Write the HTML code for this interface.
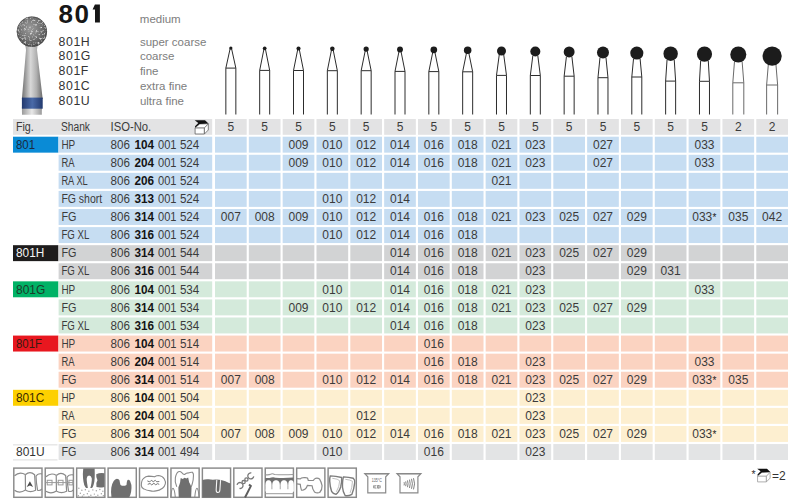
<!DOCTYPE html>
<html><head><meta charset="utf-8"><title>801</title>
<style>
html,body{margin:0;padding:0;background:#fff;}
body{width:800px;height:503px;overflow:hidden;position:relative;}
svg{position:absolute;left:0;top:0;display:block;}
text{font-family:"Liberation Sans", sans-serif;}
</style></head><body>
<svg width="800" height="503" viewBox="0 0 800 503">
<defs>
<radialGradient id="ball" cx="0.45" cy="0.4" r="0.6"><stop offset="0" stop-color="#9c9c9c"/><stop offset="0.55" stop-color="#767676"/><stop offset="1" stop-color="#4e4e4e"/></radialGradient>
<linearGradient id="shank" x1="0" x2="1" y1="0" y2="0"><stop offset="0" stop-color="#707070"/><stop offset="0.3" stop-color="#bdbdbd"/><stop offset="0.42" stop-color="#d8d8d8"/><stop offset="0.7" stop-color="#b0b0b0"/><stop offset="1" stop-color="#6a6a6a"/></linearGradient>
<linearGradient id="band" x1="0" x2="1" y1="0" y2="0"><stop offset="0" stop-color="#22396e"/><stop offset="0.5" stop-color="#4a6aa8"/><stop offset="1" stop-color="#22396e"/></linearGradient>
<linearGradient id="shaft" x1="0" x2="1" y1="0" y2="0"><stop offset="0" stop-color="#9a9a9a"/><stop offset="0.5" stop-color="#e8e8e8"/><stop offset="1" stop-color="#999"/></linearGradient>
</defs>
<defs><filter id="speck" x="-5%" y="-5%" width="110%" height="110%"><feTurbulence type="fractalNoise" baseFrequency="0.45" numOctaves="3" seed="11" result="n"/><feColorMatrix in="n" type="matrix" values="0 0 0 0 0.72  0 0 0 0 0.72  0 0 0 0 0.72  3.5 0 0 0 -1.95" result="w"/><feComposite in="w" in2="SourceGraphic" operator="in" result="ws"/><feColorMatrix in="n" type="matrix" values="0 0 0 0 0.25  0 0 0 0 0.25  0 0 0 0 0.25  0 -3.5 0 0 1.45" result="d"/><feComposite in="d" in2="SourceGraphic" operator="in" result="ds"/><feMerge><feMergeNode in="SourceGraphic"/><feMergeNode in="ds"/><feMergeNode in="ws"/></feMerge></filter></defs>
<g id="bigbur"><path d="M21.9,107 L41.9,107 L41.8,114.8 L22,114.8 Z" fill="url(#shaft)"/><path d="M24.6,44 L38.4,44 Q37,47 37,50 L42.7,99 L21.9,99 L26,50 Q26,47 24.6,44 Z" fill="url(#shank)"/><rect x="21.9" y="97.6" width="20.8" height="11.1" fill="url(#band)"/><circle cx="31.9" cy="31.7" r="15.1" fill="url(#ball)" filter="url(#speck)"/><circle cx="31.9" cy="31.7" r="14.8" fill="none" stroke="#3a3a3a" stroke-width="0.8" opacity="0.6"/></g>
<text x="58.6" y="22.5" font-size="26" font-weight="bold" fill="#161616" textLength="30.4" lengthAdjust="spacing">80</text><path d="M94.9,4.5 L99.9,4.5 L99.9,22.5 L95,22.5 L95,9.6 L92.6,9.6 Z" fill="#161616"/>
<text x="139.8" y="22.7" font-size="11.5" fill="#7d7d7d">medium</text>
<text x="58.5" y="45.50" font-size="12.3" letter-spacing="0.6" fill="#333">801H</text><text x="139.9" y="45.50" font-size="11.5" fill="#7d7d7d">super coarse</text>
<text x="58.5" y="60.40" font-size="12.3" letter-spacing="0.6" fill="#333">801G</text><text x="139.9" y="60.40" font-size="11.5" fill="#7d7d7d">coarse</text>
<text x="58.5" y="75.30" font-size="12.3" letter-spacing="0.6" fill="#333">801F</text><text x="139.9" y="75.30" font-size="11.5" fill="#7d7d7d">fine</text>
<text x="58.5" y="90.20" font-size="12.3" letter-spacing="0.6" fill="#333">801C</text><text x="139.9" y="90.20" font-size="11.5" fill="#7d7d7d">extra fine</text>
<text x="58.5" y="105.10" font-size="12.3" letter-spacing="0.6" fill="#333">801U</text><text x="139.9" y="105.10" font-size="11.5" fill="#7d7d7d">ultra fine</text>
<g fill="none" stroke="#2a2a2a" stroke-width="1">
<path stroke="#2c2c2c" d="M225.85,114.5 L225.85,68.10 L230.25,48.10 M231.45,48.10 L235.85,68.10 L235.85,114.5 M225.85,68.10 L235.85,68.10"/><circle cx="230.85" cy="48.10" r="1.60" fill="#1c1c1c" stroke="none"/>
<path stroke="#2c2c2c" d="M259.68,114.5 L259.68,70.40 L264.08,48.35 M265.28,48.35 L269.68,70.40 L269.68,114.5 M259.68,70.40 L269.68,70.40"/><circle cx="264.68" cy="48.35" r="1.85" fill="#1c1c1c" stroke="none"/>
<path stroke="#2c2c2c" d="M293.51,114.5 L293.51,70.50 L297.91,48.55 M299.11,48.55 L303.51,70.50 L303.51,114.5 M293.51,70.50 L303.51,70.50"/><circle cx="298.51" cy="48.55" r="2.05" fill="#1c1c1c" stroke="none"/>
<path stroke="#2c2c2c" d="M327.34,114.5 L327.34,70.70 L331.74,48.75 M332.94,48.75 L337.34,70.70 L337.34,114.5 M327.34,70.70 L337.34,70.70"/><circle cx="332.34" cy="48.75" r="2.25" fill="#1c1c1c" stroke="none"/>
<path stroke="#2c2c2c" d="M361.17,114.5 L361.17,70.70 L365.57,49.10 M366.77,49.10 L371.17,70.70 L371.17,114.5 M361.17,70.70 L371.17,70.70"/><circle cx="366.17" cy="49.10" r="2.60" fill="#1c1c1c" stroke="none"/>
<path stroke="#2c2c2c" d="M395.00,114.5 L395.00,71.40 L399.40,49.45 M400.60,49.45 L405.00,71.40 L405.00,114.5 M395.00,71.40 L405.00,71.40"/><circle cx="400.00" cy="49.45" r="2.95" fill="#1c1c1c" stroke="none"/>
<path stroke="#2c2c2c" d="M428.83,114.5 L428.83,71.60 L433.23,49.85 M434.43,49.85 L438.83,71.60 L438.83,114.5 M428.83,71.60 L438.83,71.60"/><circle cx="433.83" cy="49.85" r="3.35" fill="#1c1c1c" stroke="none"/>
<path stroke="#2c2c2c" d="M462.66,114.5 L462.66,71.80 L467.06,50.25 M468.26,50.25 L472.66,71.80 L472.66,114.5 M462.66,71.80 L472.66,71.80"/><circle cx="467.66" cy="50.25" r="3.75" fill="#1c1c1c" stroke="none"/>
<path stroke="#2c2c2c" d="M496.49,114.5 L496.49,75.40 L499.24,54.83 M503.74,54.83 L506.49,75.40 L506.49,114.5 M496.49,75.40 L506.49,75.40"/><circle cx="501.49" cy="51.00" r="4.50" fill="#1c1c1c" stroke="none"/>
<path stroke="#2c2c2c" d="M530.32,114.5 L530.32,75.50 L532.82,55.75 M537.82,55.75 L540.32,75.50 L540.32,114.5 M530.32,75.50 L540.32,75.50"/><circle cx="535.32" cy="51.50" r="5.00" fill="#1c1c1c" stroke="none"/>
<path stroke="#2c2c2c" d="M564.15,114.5 L564.15,76.20 L566.42,56.58 M571.88,56.58 L574.15,76.20 L574.15,114.5 M564.15,76.20 L574.15,76.20"/><circle cx="569.15" cy="51.95" r="5.45" fill="#1c1c1c" stroke="none"/>
<path stroke="#2c2c2c" d="M597.98,114.5 L597.98,77.70 L599.98,57.60 M605.98,57.60 L607.98,77.70 L607.98,114.5 M597.98,77.70 L607.98,77.70"/><circle cx="602.98" cy="52.50" r="6.00" fill="#1c1c1c" stroke="none"/>
<path stroke="#2c2c2c" d="M631.81,114.5 L631.81,77.00 L633.54,58.62 M640.09,58.62 L641.81,77.00 L641.81,114.5 M631.81,77.00 L641.81,77.00"/><circle cx="636.81" cy="53.05" r="6.55" fill="#1c1c1c" stroke="none"/>
<path stroke="#2c2c2c" d="M665.64,114.5 L665.64,81.10 L667.04,59.82 M674.24,59.82 L675.64,81.10 L675.64,114.5 M665.64,81.10 L675.64,81.10"/><circle cx="670.64" cy="53.70" r="7.20" fill="#1c1c1c" stroke="none"/>
<path stroke="#2c2c2c" d="M699.47,114.5 L699.47,81.30 L700.67,60.56 M708.27,60.56 L709.47,81.30 L709.47,114.5 M699.47,81.30 L709.47,81.30"/><circle cx="704.47" cy="54.10" r="7.60" fill="#1c1c1c" stroke="none"/>
<path stroke="#6a6a6a" d="M732.80,114.5 L732.80,82.80 L734.50,61.30 M742.10,61.30 L743.80,82.80 L743.80,114.5 M732.80,82.80 L743.80,82.80"/><circle cx="738.30" cy="54.50" r="8.00" fill="#1c1c1c" stroke="none"/>
<path stroke="#6a6a6a" d="M766.63,114.5 L766.63,85.00 L768.33,64.26 M775.93,64.26 L777.63,85.00 L777.63,114.5 M766.63,85.00 L777.63,85.00"/><circle cx="772.13" cy="56.10" r="9.60" fill="#1c1c1c" stroke="none"/>
</g>
<rect x="13" y="119.0" width="199.2" height="15.8" fill="#e3e3e4"/>
<text x="15.9" y="131" font-size="12.0" fill="#3b3b3b" textLength="17.9" lengthAdjust="spacingAndGlyphs">Fig.</text><text x="60.9" y="131" font-size="12.0" fill="#3b3b3b" textLength="29.1" lengthAdjust="spacingAndGlyphs">Shank</text><text x="110.5" y="131" font-size="12.0" fill="#3b3b3b" textLength="40.7" lengthAdjust="spacingAndGlyphs">ISO-No.</text>
<g><path d="M195.10,127.80 L204.40,127.80 L204.40,134.00 L195.10,134.00 Z" fill="#fff" stroke="#6a6a6a" stroke-width="0.85"/><path d="M204.40,127.80 L208.30,123.80 L208.30,130.00 L204.40,134.00 Z" fill="#fff" stroke="#6a6a6a" stroke-width="0.85"/><path d="M195.10,127.80 L199.70,124.00 L208.30,123.80 L204.40,127.80 Z" fill="#fff" stroke="#6a6a6a" stroke-width="0.7"/><path d="M194.70,120.20 L205.00,120.20 L208.50,123.60 L199.60,124.00 L195.30,127.40 L195.00,126.20 L198.30,122.90 Z" fill="#111"/></g>
<rect x="215.00" y="119.0" width="31.7" height="15.8" fill="#e3e3e4"/><text x="230.85" y="131" font-size="12.0" fill="#3b3b3b" text-anchor="middle">5</text><rect x="248.83" y="119.0" width="31.7" height="15.8" fill="#e3e3e4"/><text x="264.68" y="131" font-size="12.0" fill="#3b3b3b" text-anchor="middle">5</text><rect x="282.66" y="119.0" width="31.7" height="15.8" fill="#e3e3e4"/><text x="298.51" y="131" font-size="12.0" fill="#3b3b3b" text-anchor="middle">5</text><rect x="316.49" y="119.0" width="31.7" height="15.8" fill="#e3e3e4"/><text x="332.34" y="131" font-size="12.0" fill="#3b3b3b" text-anchor="middle">5</text><rect x="350.32" y="119.0" width="31.7" height="15.8" fill="#e3e3e4"/><text x="366.17" y="131" font-size="12.0" fill="#3b3b3b" text-anchor="middle">5</text><rect x="384.15" y="119.0" width="31.7" height="15.8" fill="#e3e3e4"/><text x="400.00" y="131" font-size="12.0" fill="#3b3b3b" text-anchor="middle">5</text><rect x="417.98" y="119.0" width="31.7" height="15.8" fill="#e3e3e4"/><text x="433.83" y="131" font-size="12.0" fill="#3b3b3b" text-anchor="middle">5</text><rect x="451.81" y="119.0" width="31.7" height="15.8" fill="#e3e3e4"/><text x="467.66" y="131" font-size="12.0" fill="#3b3b3b" text-anchor="middle">5</text><rect x="485.64" y="119.0" width="31.7" height="15.8" fill="#e3e3e4"/><text x="501.49" y="131" font-size="12.0" fill="#3b3b3b" text-anchor="middle">5</text><rect x="519.47" y="119.0" width="31.7" height="15.8" fill="#e3e3e4"/><text x="535.32" y="131" font-size="12.0" fill="#3b3b3b" text-anchor="middle">5</text><rect x="553.30" y="119.0" width="31.7" height="15.8" fill="#e3e3e4"/><text x="569.15" y="131" font-size="12.0" fill="#3b3b3b" text-anchor="middle">5</text><rect x="587.13" y="119.0" width="31.7" height="15.8" fill="#e3e3e4"/><text x="602.98" y="131" font-size="12.0" fill="#3b3b3b" text-anchor="middle">5</text><rect x="620.96" y="119.0" width="31.7" height="15.8" fill="#e3e3e4"/><text x="636.81" y="131" font-size="12.0" fill="#3b3b3b" text-anchor="middle">5</text><rect x="654.79" y="119.0" width="31.7" height="15.8" fill="#e3e3e4"/><text x="670.64" y="131" font-size="12.0" fill="#3b3b3b" text-anchor="middle">5</text><rect x="688.62" y="119.0" width="31.7" height="15.8" fill="#e3e3e4"/><text x="704.47" y="131" font-size="12.0" fill="#3b3b3b" text-anchor="middle">5</text><rect x="722.45" y="119.0" width="31.7" height="15.8" fill="#e3e3e4"/><text x="738.30" y="131" font-size="12.0" fill="#3b3b3b" text-anchor="middle">2</text><rect x="756.28" y="119.0" width="31.7" height="15.8" fill="#e3e3e4"/><text x="772.13" y="131" font-size="12.0" fill="#3b3b3b" text-anchor="middle">2</text>
<rect x="13" y="136.70" width="45.4" height="15.95" fill="#0a8bd6"/><text x="16.0" y="148.90" font-size="12.0" fill="#1b2a40" textLength="19.1" lengthAdjust="spacingAndGlyphs">801</text><rect x="58.6" y="136.70" width="153.6" height="15.95" fill="#c6ddf2"/><text x="61.4" y="148.90" font-size="12.0" fill="#3b3b3b" textLength="13.8" lengthAdjust="spacingAndGlyphs">HP</text><text y="148.90" font-size="12.0" fill="#3b3b3b"><tspan x="110.5" textLength="19.4" lengthAdjust="spacingAndGlyphs">806</tspan><tspan x="134.4" font-weight="bold" fill="#141414" textLength="19.6" lengthAdjust="spacingAndGlyphs">104</tspan><tspan x="158.0" textLength="18.5" lengthAdjust="spacingAndGlyphs">001</tspan><tspan x="179.9" textLength="19.4" lengthAdjust="spacingAndGlyphs">524</tspan></text><rect x="215.00" y="136.70" width="31.7" height="15.95" fill="#c6ddf2"/><rect x="248.83" y="136.70" width="31.7" height="15.95" fill="#c6ddf2"/><rect x="282.66" y="136.70" width="31.7" height="15.95" fill="#c6ddf2"/><text x="298.51" y="148.90" font-size="12.0" fill="#3b3b3b" text-anchor="middle">009</text><rect x="316.49" y="136.70" width="31.7" height="15.95" fill="#c6ddf2"/><text x="332.34" y="148.90" font-size="12.0" fill="#3b3b3b" text-anchor="middle">010</text><rect x="350.32" y="136.70" width="31.7" height="15.95" fill="#c6ddf2"/><text x="366.17" y="148.90" font-size="12.0" fill="#3b3b3b" text-anchor="middle">012</text><rect x="384.15" y="136.70" width="31.7" height="15.95" fill="#c6ddf2"/><text x="400.00" y="148.90" font-size="12.0" fill="#3b3b3b" text-anchor="middle">014</text><rect x="417.98" y="136.70" width="31.7" height="15.95" fill="#c6ddf2"/><text x="433.83" y="148.90" font-size="12.0" fill="#3b3b3b" text-anchor="middle">016</text><rect x="451.81" y="136.70" width="31.7" height="15.95" fill="#c6ddf2"/><text x="467.66" y="148.90" font-size="12.0" fill="#3b3b3b" text-anchor="middle">018</text><rect x="485.64" y="136.70" width="31.7" height="15.95" fill="#c6ddf2"/><text x="501.49" y="148.90" font-size="12.0" fill="#3b3b3b" text-anchor="middle">021</text><rect x="519.47" y="136.70" width="31.7" height="15.95" fill="#c6ddf2"/><text x="535.32" y="148.90" font-size="12.0" fill="#3b3b3b" text-anchor="middle">023</text><rect x="553.30" y="136.70" width="31.7" height="15.95" fill="#c6ddf2"/><rect x="587.13" y="136.70" width="31.7" height="15.95" fill="#c6ddf2"/><text x="602.98" y="148.90" font-size="12.0" fill="#3b3b3b" text-anchor="middle">027</text><rect x="620.96" y="136.70" width="31.7" height="15.95" fill="#c6ddf2"/><rect x="654.79" y="136.70" width="31.7" height="15.95" fill="#c6ddf2"/><rect x="688.62" y="136.70" width="31.7" height="15.95" fill="#c6ddf2"/><text x="704.47" y="148.90" font-size="12.0" fill="#3b3b3b" text-anchor="middle">033</text><rect x="722.45" y="136.70" width="31.7" height="15.95" fill="#c6ddf2"/><rect x="756.28" y="136.70" width="31.7" height="15.95" fill="#c6ddf2"/>
<rect x="58.6" y="154.78" width="153.6" height="15.95" fill="#c6ddf2"/><text x="61.4" y="166.98" font-size="12.0" fill="#3b3b3b" textLength="13.1" lengthAdjust="spacingAndGlyphs">RA</text><text y="166.98" font-size="12.0" fill="#3b3b3b"><tspan x="110.5" textLength="19.4" lengthAdjust="spacingAndGlyphs">806</tspan><tspan x="134.4" font-weight="bold" fill="#141414" textLength="19.6" lengthAdjust="spacingAndGlyphs">204</tspan><tspan x="158.0" textLength="18.5" lengthAdjust="spacingAndGlyphs">001</tspan><tspan x="179.9" textLength="19.4" lengthAdjust="spacingAndGlyphs">524</tspan></text><rect x="215.00" y="154.78" width="31.7" height="15.95" fill="#c6ddf2"/><rect x="248.83" y="154.78" width="31.7" height="15.95" fill="#c6ddf2"/><rect x="282.66" y="154.78" width="31.7" height="15.95" fill="#c6ddf2"/><text x="298.51" y="166.98" font-size="12.0" fill="#3b3b3b" text-anchor="middle">009</text><rect x="316.49" y="154.78" width="31.7" height="15.95" fill="#c6ddf2"/><text x="332.34" y="166.98" font-size="12.0" fill="#3b3b3b" text-anchor="middle">010</text><rect x="350.32" y="154.78" width="31.7" height="15.95" fill="#c6ddf2"/><text x="366.17" y="166.98" font-size="12.0" fill="#3b3b3b" text-anchor="middle">012</text><rect x="384.15" y="154.78" width="31.7" height="15.95" fill="#c6ddf2"/><text x="400.00" y="166.98" font-size="12.0" fill="#3b3b3b" text-anchor="middle">014</text><rect x="417.98" y="154.78" width="31.7" height="15.95" fill="#c6ddf2"/><text x="433.83" y="166.98" font-size="12.0" fill="#3b3b3b" text-anchor="middle">016</text><rect x="451.81" y="154.78" width="31.7" height="15.95" fill="#c6ddf2"/><text x="467.66" y="166.98" font-size="12.0" fill="#3b3b3b" text-anchor="middle">018</text><rect x="485.64" y="154.78" width="31.7" height="15.95" fill="#c6ddf2"/><text x="501.49" y="166.98" font-size="12.0" fill="#3b3b3b" text-anchor="middle">021</text><rect x="519.47" y="154.78" width="31.7" height="15.95" fill="#c6ddf2"/><text x="535.32" y="166.98" font-size="12.0" fill="#3b3b3b" text-anchor="middle">023</text><rect x="553.30" y="154.78" width="31.7" height="15.95" fill="#c6ddf2"/><rect x="587.13" y="154.78" width="31.7" height="15.95" fill="#c6ddf2"/><text x="602.98" y="166.98" font-size="12.0" fill="#3b3b3b" text-anchor="middle">027</text><rect x="620.96" y="154.78" width="31.7" height="15.95" fill="#c6ddf2"/><rect x="654.79" y="154.78" width="31.7" height="15.95" fill="#c6ddf2"/><rect x="688.62" y="154.78" width="31.7" height="15.95" fill="#c6ddf2"/><text x="704.47" y="166.98" font-size="12.0" fill="#3b3b3b" text-anchor="middle">033</text><rect x="722.45" y="154.78" width="31.7" height="15.95" fill="#c6ddf2"/><rect x="756.28" y="154.78" width="31.7" height="15.95" fill="#c6ddf2"/>
<rect x="58.6" y="172.86" width="153.6" height="15.95" fill="#c6ddf2"/><text x="61.4" y="185.06" font-size="12.0" fill="#3b3b3b" textLength="26.4" lengthAdjust="spacingAndGlyphs">RA XL</text><text y="185.06" font-size="12.0" fill="#3b3b3b"><tspan x="110.5" textLength="19.4" lengthAdjust="spacingAndGlyphs">806</tspan><tspan x="134.4" font-weight="bold" fill="#141414" textLength="19.6" lengthAdjust="spacingAndGlyphs">206</tspan><tspan x="158.0" textLength="18.5" lengthAdjust="spacingAndGlyphs">001</tspan><tspan x="179.9" textLength="19.4" lengthAdjust="spacingAndGlyphs">524</tspan></text><rect x="215.00" y="172.86" width="31.7" height="15.95" fill="#c6ddf2"/><rect x="248.83" y="172.86" width="31.7" height="15.95" fill="#c6ddf2"/><rect x="282.66" y="172.86" width="31.7" height="15.95" fill="#c6ddf2"/><rect x="316.49" y="172.86" width="31.7" height="15.95" fill="#c6ddf2"/><rect x="350.32" y="172.86" width="31.7" height="15.95" fill="#c6ddf2"/><rect x="384.15" y="172.86" width="31.7" height="15.95" fill="#c6ddf2"/><rect x="417.98" y="172.86" width="31.7" height="15.95" fill="#c6ddf2"/><rect x="451.81" y="172.86" width="31.7" height="15.95" fill="#c6ddf2"/><rect x="485.64" y="172.86" width="31.7" height="15.95" fill="#c6ddf2"/><text x="501.49" y="185.06" font-size="12.0" fill="#3b3b3b" text-anchor="middle">021</text><rect x="519.47" y="172.86" width="31.7" height="15.95" fill="#c6ddf2"/><rect x="553.30" y="172.86" width="31.7" height="15.95" fill="#c6ddf2"/><rect x="587.13" y="172.86" width="31.7" height="15.95" fill="#c6ddf2"/><rect x="620.96" y="172.86" width="31.7" height="15.95" fill="#c6ddf2"/><rect x="654.79" y="172.86" width="31.7" height="15.95" fill="#c6ddf2"/><rect x="688.62" y="172.86" width="31.7" height="15.95" fill="#c6ddf2"/><rect x="722.45" y="172.86" width="31.7" height="15.95" fill="#c6ddf2"/><rect x="756.28" y="172.86" width="31.7" height="15.95" fill="#c6ddf2"/>
<rect x="58.6" y="190.94" width="153.6" height="15.95" fill="#c6ddf2"/><text x="61.4" y="203.14" font-size="12.0" fill="#3b3b3b" textLength="40.8" lengthAdjust="spacingAndGlyphs">FG short</text><text y="203.14" font-size="12.0" fill="#3b3b3b"><tspan x="110.5" textLength="19.4" lengthAdjust="spacingAndGlyphs">806</tspan><tspan x="134.4" font-weight="bold" fill="#141414" textLength="19.6" lengthAdjust="spacingAndGlyphs">313</tspan><tspan x="158.0" textLength="18.5" lengthAdjust="spacingAndGlyphs">001</tspan><tspan x="179.9" textLength="19.4" lengthAdjust="spacingAndGlyphs">524</tspan></text><rect x="215.00" y="190.94" width="31.7" height="15.95" fill="#c6ddf2"/><rect x="248.83" y="190.94" width="31.7" height="15.95" fill="#c6ddf2"/><rect x="282.66" y="190.94" width="31.7" height="15.95" fill="#c6ddf2"/><rect x="316.49" y="190.94" width="31.7" height="15.95" fill="#c6ddf2"/><text x="332.34" y="203.14" font-size="12.0" fill="#3b3b3b" text-anchor="middle">010</text><rect x="350.32" y="190.94" width="31.7" height="15.95" fill="#c6ddf2"/><text x="366.17" y="203.14" font-size="12.0" fill="#3b3b3b" text-anchor="middle">012</text><rect x="384.15" y="190.94" width="31.7" height="15.95" fill="#c6ddf2"/><text x="400.00" y="203.14" font-size="12.0" fill="#3b3b3b" text-anchor="middle">014</text><rect x="417.98" y="190.94" width="31.7" height="15.95" fill="#c6ddf2"/><rect x="451.81" y="190.94" width="31.7" height="15.95" fill="#c6ddf2"/><rect x="485.64" y="190.94" width="31.7" height="15.95" fill="#c6ddf2"/><rect x="519.47" y="190.94" width="31.7" height="15.95" fill="#c6ddf2"/><rect x="553.30" y="190.94" width="31.7" height="15.95" fill="#c6ddf2"/><rect x="587.13" y="190.94" width="31.7" height="15.95" fill="#c6ddf2"/><rect x="620.96" y="190.94" width="31.7" height="15.95" fill="#c6ddf2"/><rect x="654.79" y="190.94" width="31.7" height="15.95" fill="#c6ddf2"/><rect x="688.62" y="190.94" width="31.7" height="15.95" fill="#c6ddf2"/><rect x="722.45" y="190.94" width="31.7" height="15.95" fill="#c6ddf2"/><rect x="756.28" y="190.94" width="31.7" height="15.95" fill="#c6ddf2"/>
<rect x="58.6" y="209.02" width="153.6" height="15.95" fill="#c6ddf2"/><text x="61.4" y="221.22" font-size="12.0" fill="#3b3b3b" textLength="15.0" lengthAdjust="spacingAndGlyphs">FG</text><text y="221.22" font-size="12.0" fill="#3b3b3b"><tspan x="110.5" textLength="19.4" lengthAdjust="spacingAndGlyphs">806</tspan><tspan x="134.4" font-weight="bold" fill="#141414" textLength="19.6" lengthAdjust="spacingAndGlyphs">314</tspan><tspan x="158.0" textLength="18.5" lengthAdjust="spacingAndGlyphs">001</tspan><tspan x="179.9" textLength="19.4" lengthAdjust="spacingAndGlyphs">524</tspan></text><rect x="215.00" y="209.02" width="31.7" height="15.95" fill="#c6ddf2"/><text x="230.85" y="221.22" font-size="12.0" fill="#3b3b3b" text-anchor="middle">007</text><rect x="248.83" y="209.02" width="31.7" height="15.95" fill="#c6ddf2"/><text x="264.68" y="221.22" font-size="12.0" fill="#3b3b3b" text-anchor="middle">008</text><rect x="282.66" y="209.02" width="31.7" height="15.95" fill="#c6ddf2"/><text x="298.51" y="221.22" font-size="12.0" fill="#3b3b3b" text-anchor="middle">009</text><rect x="316.49" y="209.02" width="31.7" height="15.95" fill="#c6ddf2"/><text x="332.34" y="221.22" font-size="12.0" fill="#3b3b3b" text-anchor="middle">010</text><rect x="350.32" y="209.02" width="31.7" height="15.95" fill="#c6ddf2"/><text x="366.17" y="221.22" font-size="12.0" fill="#3b3b3b" text-anchor="middle">012</text><rect x="384.15" y="209.02" width="31.7" height="15.95" fill="#c6ddf2"/><text x="400.00" y="221.22" font-size="12.0" fill="#3b3b3b" text-anchor="middle">014</text><rect x="417.98" y="209.02" width="31.7" height="15.95" fill="#c6ddf2"/><text x="433.83" y="221.22" font-size="12.0" fill="#3b3b3b" text-anchor="middle">016</text><rect x="451.81" y="209.02" width="31.7" height="15.95" fill="#c6ddf2"/><text x="467.66" y="221.22" font-size="12.0" fill="#3b3b3b" text-anchor="middle">018</text><rect x="485.64" y="209.02" width="31.7" height="15.95" fill="#c6ddf2"/><text x="501.49" y="221.22" font-size="12.0" fill="#3b3b3b" text-anchor="middle">021</text><rect x="519.47" y="209.02" width="31.7" height="15.95" fill="#c6ddf2"/><text x="535.32" y="221.22" font-size="12.0" fill="#3b3b3b" text-anchor="middle">023</text><rect x="553.30" y="209.02" width="31.7" height="15.95" fill="#c6ddf2"/><text x="569.15" y="221.22" font-size="12.0" fill="#3b3b3b" text-anchor="middle">025</text><rect x="587.13" y="209.02" width="31.7" height="15.95" fill="#c6ddf2"/><text x="602.98" y="221.22" font-size="12.0" fill="#3b3b3b" text-anchor="middle">027</text><rect x="620.96" y="209.02" width="31.7" height="15.95" fill="#c6ddf2"/><text x="636.81" y="221.22" font-size="12.0" fill="#3b3b3b" text-anchor="middle">029</text><rect x="654.79" y="209.02" width="31.7" height="15.95" fill="#c6ddf2"/><rect x="688.62" y="209.02" width="31.7" height="15.95" fill="#c6ddf2"/><text x="702.27" y="221.22" font-size="12.0" fill="#3b3b3b" text-anchor="middle">033</text><text x="712.47" y="220.92" font-size="10" fill="#222">*</text><rect x="722.45" y="209.02" width="31.7" height="15.95" fill="#c6ddf2"/><text x="738.30" y="221.22" font-size="12.0" fill="#3b3b3b" text-anchor="middle">035</text><rect x="756.28" y="209.02" width="31.7" height="15.95" fill="#c6ddf2"/><text x="772.13" y="221.22" font-size="12.0" fill="#3b3b3b" text-anchor="middle">042</text>
<rect x="58.6" y="227.10" width="153.6" height="15.95" fill="#c6ddf2"/><text x="61.4" y="239.30" font-size="12.0" fill="#3b3b3b" textLength="27.9" lengthAdjust="spacingAndGlyphs">FG XL</text><text y="239.30" font-size="12.0" fill="#3b3b3b"><tspan x="110.5" textLength="19.4" lengthAdjust="spacingAndGlyphs">806</tspan><tspan x="134.4" font-weight="bold" fill="#141414" textLength="19.6" lengthAdjust="spacingAndGlyphs">316</tspan><tspan x="158.0" textLength="18.5" lengthAdjust="spacingAndGlyphs">001</tspan><tspan x="179.9" textLength="19.4" lengthAdjust="spacingAndGlyphs">524</tspan></text><rect x="215.00" y="227.10" width="31.7" height="15.95" fill="#c6ddf2"/><rect x="248.83" y="227.10" width="31.7" height="15.95" fill="#c6ddf2"/><rect x="282.66" y="227.10" width="31.7" height="15.95" fill="#c6ddf2"/><rect x="316.49" y="227.10" width="31.7" height="15.95" fill="#c6ddf2"/><text x="332.34" y="239.30" font-size="12.0" fill="#3b3b3b" text-anchor="middle">010</text><rect x="350.32" y="227.10" width="31.7" height="15.95" fill="#c6ddf2"/><text x="366.17" y="239.30" font-size="12.0" fill="#3b3b3b" text-anchor="middle">012</text><rect x="384.15" y="227.10" width="31.7" height="15.95" fill="#c6ddf2"/><text x="400.00" y="239.30" font-size="12.0" fill="#3b3b3b" text-anchor="middle">014</text><rect x="417.98" y="227.10" width="31.7" height="15.95" fill="#c6ddf2"/><text x="433.83" y="239.30" font-size="12.0" fill="#3b3b3b" text-anchor="middle">016</text><rect x="451.81" y="227.10" width="31.7" height="15.95" fill="#c6ddf2"/><text x="467.66" y="239.30" font-size="12.0" fill="#3b3b3b" text-anchor="middle">018</text><rect x="485.64" y="227.10" width="31.7" height="15.95" fill="#c6ddf2"/><rect x="519.47" y="227.10" width="31.7" height="15.95" fill="#c6ddf2"/><rect x="553.30" y="227.10" width="31.7" height="15.95" fill="#c6ddf2"/><rect x="587.13" y="227.10" width="31.7" height="15.95" fill="#c6ddf2"/><rect x="620.96" y="227.10" width="31.7" height="15.95" fill="#c6ddf2"/><rect x="654.79" y="227.10" width="31.7" height="15.95" fill="#c6ddf2"/><rect x="688.62" y="227.10" width="31.7" height="15.95" fill="#c6ddf2"/><rect x="722.45" y="227.10" width="31.7" height="15.95" fill="#c6ddf2"/><rect x="756.28" y="227.10" width="31.7" height="15.95" fill="#c6ddf2"/>
<rect x="13" y="245.18" width="45.4" height="15.95" fill="#1e1c1c"/><text x="16.0" y="257.38" font-size="12.0" fill="#f4f4f4" textLength="28.3" lengthAdjust="spacingAndGlyphs">801H</text><rect x="58.6" y="245.18" width="153.6" height="15.95" fill="#d2d3d4"/><text x="61.4" y="257.38" font-size="12.0" fill="#3b3b3b" textLength="15.0" lengthAdjust="spacingAndGlyphs">FG</text><text y="257.38" font-size="12.0" fill="#3b3b3b"><tspan x="110.5" textLength="19.4" lengthAdjust="spacingAndGlyphs">806</tspan><tspan x="134.4" font-weight="bold" fill="#141414" textLength="19.6" lengthAdjust="spacingAndGlyphs">314</tspan><tspan x="158.0" textLength="18.5" lengthAdjust="spacingAndGlyphs">001</tspan><tspan x="179.9" textLength="19.4" lengthAdjust="spacingAndGlyphs">544</tspan></text><rect x="215.00" y="245.18" width="31.7" height="15.95" fill="#d2d3d4"/><rect x="248.83" y="245.18" width="31.7" height="15.95" fill="#d2d3d4"/><rect x="282.66" y="245.18" width="31.7" height="15.95" fill="#d2d3d4"/><rect x="316.49" y="245.18" width="31.7" height="15.95" fill="#d2d3d4"/><rect x="350.32" y="245.18" width="31.7" height="15.95" fill="#d2d3d4"/><rect x="384.15" y="245.18" width="31.7" height="15.95" fill="#d2d3d4"/><text x="400.00" y="257.38" font-size="12.0" fill="#3b3b3b" text-anchor="middle">014</text><rect x="417.98" y="245.18" width="31.7" height="15.95" fill="#d2d3d4"/><text x="433.83" y="257.38" font-size="12.0" fill="#3b3b3b" text-anchor="middle">016</text><rect x="451.81" y="245.18" width="31.7" height="15.95" fill="#d2d3d4"/><text x="467.66" y="257.38" font-size="12.0" fill="#3b3b3b" text-anchor="middle">018</text><rect x="485.64" y="245.18" width="31.7" height="15.95" fill="#d2d3d4"/><text x="501.49" y="257.38" font-size="12.0" fill="#3b3b3b" text-anchor="middle">021</text><rect x="519.47" y="245.18" width="31.7" height="15.95" fill="#d2d3d4"/><text x="535.32" y="257.38" font-size="12.0" fill="#3b3b3b" text-anchor="middle">023</text><rect x="553.30" y="245.18" width="31.7" height="15.95" fill="#d2d3d4"/><text x="569.15" y="257.38" font-size="12.0" fill="#3b3b3b" text-anchor="middle">025</text><rect x="587.13" y="245.18" width="31.7" height="15.95" fill="#d2d3d4"/><text x="602.98" y="257.38" font-size="12.0" fill="#3b3b3b" text-anchor="middle">027</text><rect x="620.96" y="245.18" width="31.7" height="15.95" fill="#d2d3d4"/><text x="636.81" y="257.38" font-size="12.0" fill="#3b3b3b" text-anchor="middle">029</text><rect x="654.79" y="245.18" width="31.7" height="15.95" fill="#d2d3d4"/><rect x="688.62" y="245.18" width="31.7" height="15.95" fill="#d2d3d4"/><rect x="722.45" y="245.18" width="31.7" height="15.95" fill="#d2d3d4"/><rect x="756.28" y="245.18" width="31.7" height="15.95" fill="#d2d3d4"/>
<rect x="58.6" y="263.26" width="153.6" height="15.95" fill="#d2d3d4"/><text x="61.4" y="275.46" font-size="12.0" fill="#3b3b3b" textLength="27.9" lengthAdjust="spacingAndGlyphs">FG XL</text><text y="275.46" font-size="12.0" fill="#3b3b3b"><tspan x="110.5" textLength="19.4" lengthAdjust="spacingAndGlyphs">806</tspan><tspan x="134.4" font-weight="bold" fill="#141414" textLength="19.6" lengthAdjust="spacingAndGlyphs">316</tspan><tspan x="158.0" textLength="18.5" lengthAdjust="spacingAndGlyphs">001</tspan><tspan x="179.9" textLength="19.4" lengthAdjust="spacingAndGlyphs">544</tspan></text><rect x="215.00" y="263.26" width="31.7" height="15.95" fill="#d2d3d4"/><rect x="248.83" y="263.26" width="31.7" height="15.95" fill="#d2d3d4"/><rect x="282.66" y="263.26" width="31.7" height="15.95" fill="#d2d3d4"/><rect x="316.49" y="263.26" width="31.7" height="15.95" fill="#d2d3d4"/><rect x="350.32" y="263.26" width="31.7" height="15.95" fill="#d2d3d4"/><rect x="384.15" y="263.26" width="31.7" height="15.95" fill="#d2d3d4"/><text x="400.00" y="275.46" font-size="12.0" fill="#3b3b3b" text-anchor="middle">014</text><rect x="417.98" y="263.26" width="31.7" height="15.95" fill="#d2d3d4"/><text x="433.83" y="275.46" font-size="12.0" fill="#3b3b3b" text-anchor="middle">016</text><rect x="451.81" y="263.26" width="31.7" height="15.95" fill="#d2d3d4"/><text x="467.66" y="275.46" font-size="12.0" fill="#3b3b3b" text-anchor="middle">018</text><rect x="485.64" y="263.26" width="31.7" height="15.95" fill="#d2d3d4"/><rect x="519.47" y="263.26" width="31.7" height="15.95" fill="#d2d3d4"/><text x="535.32" y="275.46" font-size="12.0" fill="#3b3b3b" text-anchor="middle">023</text><rect x="553.30" y="263.26" width="31.7" height="15.95" fill="#d2d3d4"/><rect x="587.13" y="263.26" width="31.7" height="15.95" fill="#d2d3d4"/><rect x="620.96" y="263.26" width="31.7" height="15.95" fill="#d2d3d4"/><text x="636.81" y="275.46" font-size="12.0" fill="#3b3b3b" text-anchor="middle">029</text><rect x="654.79" y="263.26" width="31.7" height="15.95" fill="#d2d3d4"/><text x="670.64" y="275.46" font-size="12.0" fill="#3b3b3b" text-anchor="middle">031</text><rect x="688.62" y="263.26" width="31.7" height="15.95" fill="#d2d3d4"/><rect x="722.45" y="263.26" width="31.7" height="15.95" fill="#d2d3d4"/><rect x="756.28" y="263.26" width="31.7" height="15.95" fill="#d2d3d4"/>
<rect x="13" y="281.34" width="45.4" height="15.95" fill="#00b266"/><text x="16.0" y="293.54" font-size="12.0" fill="#1c3a2a" textLength="29.3" lengthAdjust="spacingAndGlyphs">801G</text><rect x="58.6" y="281.34" width="153.6" height="15.95" fill="#d4eadb"/><text x="61.4" y="293.54" font-size="12.0" fill="#3b3b3b" textLength="13.8" lengthAdjust="spacingAndGlyphs">HP</text><text y="293.54" font-size="12.0" fill="#3b3b3b"><tspan x="110.5" textLength="19.4" lengthAdjust="spacingAndGlyphs">806</tspan><tspan x="134.4" font-weight="bold" fill="#141414" textLength="19.6" lengthAdjust="spacingAndGlyphs">104</tspan><tspan x="158.0" textLength="18.5" lengthAdjust="spacingAndGlyphs">001</tspan><tspan x="179.9" textLength="19.4" lengthAdjust="spacingAndGlyphs">534</tspan></text><rect x="215.00" y="281.34" width="31.7" height="15.95" fill="#d4eadb"/><rect x="248.83" y="281.34" width="31.7" height="15.95" fill="#d4eadb"/><rect x="282.66" y="281.34" width="31.7" height="15.95" fill="#d4eadb"/><rect x="316.49" y="281.34" width="31.7" height="15.95" fill="#d4eadb"/><text x="332.34" y="293.54" font-size="12.0" fill="#3b3b3b" text-anchor="middle">010</text><rect x="350.32" y="281.34" width="31.7" height="15.95" fill="#d4eadb"/><rect x="384.15" y="281.34" width="31.7" height="15.95" fill="#d4eadb"/><text x="400.00" y="293.54" font-size="12.0" fill="#3b3b3b" text-anchor="middle">014</text><rect x="417.98" y="281.34" width="31.7" height="15.95" fill="#d4eadb"/><text x="433.83" y="293.54" font-size="12.0" fill="#3b3b3b" text-anchor="middle">016</text><rect x="451.81" y="281.34" width="31.7" height="15.95" fill="#d4eadb"/><text x="467.66" y="293.54" font-size="12.0" fill="#3b3b3b" text-anchor="middle">018</text><rect x="485.64" y="281.34" width="31.7" height="15.95" fill="#d4eadb"/><text x="501.49" y="293.54" font-size="12.0" fill="#3b3b3b" text-anchor="middle">021</text><rect x="519.47" y="281.34" width="31.7" height="15.95" fill="#d4eadb"/><text x="535.32" y="293.54" font-size="12.0" fill="#3b3b3b" text-anchor="middle">023</text><rect x="553.30" y="281.34" width="31.7" height="15.95" fill="#d4eadb"/><rect x="587.13" y="281.34" width="31.7" height="15.95" fill="#d4eadb"/><rect x="620.96" y="281.34" width="31.7" height="15.95" fill="#d4eadb"/><rect x="654.79" y="281.34" width="31.7" height="15.95" fill="#d4eadb"/><rect x="688.62" y="281.34" width="31.7" height="15.95" fill="#d4eadb"/><text x="704.47" y="293.54" font-size="12.0" fill="#3b3b3b" text-anchor="middle">033</text><rect x="722.45" y="281.34" width="31.7" height="15.95" fill="#d4eadb"/><rect x="756.28" y="281.34" width="31.7" height="15.95" fill="#d4eadb"/>
<rect x="58.6" y="299.42" width="153.6" height="15.95" fill="#d4eadb"/><text x="61.4" y="311.62" font-size="12.0" fill="#3b3b3b" textLength="15.0" lengthAdjust="spacingAndGlyphs">FG</text><text y="311.62" font-size="12.0" fill="#3b3b3b"><tspan x="110.5" textLength="19.4" lengthAdjust="spacingAndGlyphs">806</tspan><tspan x="134.4" font-weight="bold" fill="#141414" textLength="19.6" lengthAdjust="spacingAndGlyphs">314</tspan><tspan x="158.0" textLength="18.5" lengthAdjust="spacingAndGlyphs">001</tspan><tspan x="179.9" textLength="19.4" lengthAdjust="spacingAndGlyphs">534</tspan></text><rect x="215.00" y="299.42" width="31.7" height="15.95" fill="#d4eadb"/><rect x="248.83" y="299.42" width="31.7" height="15.95" fill="#d4eadb"/><rect x="282.66" y="299.42" width="31.7" height="15.95" fill="#d4eadb"/><text x="298.51" y="311.62" font-size="12.0" fill="#3b3b3b" text-anchor="middle">009</text><rect x="316.49" y="299.42" width="31.7" height="15.95" fill="#d4eadb"/><text x="332.34" y="311.62" font-size="12.0" fill="#3b3b3b" text-anchor="middle">010</text><rect x="350.32" y="299.42" width="31.7" height="15.95" fill="#d4eadb"/><text x="366.17" y="311.62" font-size="12.0" fill="#3b3b3b" text-anchor="middle">012</text><rect x="384.15" y="299.42" width="31.7" height="15.95" fill="#d4eadb"/><text x="400.00" y="311.62" font-size="12.0" fill="#3b3b3b" text-anchor="middle">014</text><rect x="417.98" y="299.42" width="31.7" height="15.95" fill="#d4eadb"/><text x="433.83" y="311.62" font-size="12.0" fill="#3b3b3b" text-anchor="middle">016</text><rect x="451.81" y="299.42" width="31.7" height="15.95" fill="#d4eadb"/><text x="467.66" y="311.62" font-size="12.0" fill="#3b3b3b" text-anchor="middle">018</text><rect x="485.64" y="299.42" width="31.7" height="15.95" fill="#d4eadb"/><text x="501.49" y="311.62" font-size="12.0" fill="#3b3b3b" text-anchor="middle">021</text><rect x="519.47" y="299.42" width="31.7" height="15.95" fill="#d4eadb"/><text x="535.32" y="311.62" font-size="12.0" fill="#3b3b3b" text-anchor="middle">023</text><rect x="553.30" y="299.42" width="31.7" height="15.95" fill="#d4eadb"/><text x="569.15" y="311.62" font-size="12.0" fill="#3b3b3b" text-anchor="middle">025</text><rect x="587.13" y="299.42" width="31.7" height="15.95" fill="#d4eadb"/><text x="602.98" y="311.62" font-size="12.0" fill="#3b3b3b" text-anchor="middle">027</text><rect x="620.96" y="299.42" width="31.7" height="15.95" fill="#d4eadb"/><text x="636.81" y="311.62" font-size="12.0" fill="#3b3b3b" text-anchor="middle">029</text><rect x="654.79" y="299.42" width="31.7" height="15.95" fill="#d4eadb"/><rect x="688.62" y="299.42" width="31.7" height="15.95" fill="#d4eadb"/><rect x="722.45" y="299.42" width="31.7" height="15.95" fill="#d4eadb"/><rect x="756.28" y="299.42" width="31.7" height="15.95" fill="#d4eadb"/>
<rect x="58.6" y="317.50" width="153.6" height="15.95" fill="#d4eadb"/><text x="61.4" y="329.70" font-size="12.0" fill="#3b3b3b" textLength="27.9" lengthAdjust="spacingAndGlyphs">FG XL</text><text y="329.70" font-size="12.0" fill="#3b3b3b"><tspan x="110.5" textLength="19.4" lengthAdjust="spacingAndGlyphs">806</tspan><tspan x="134.4" font-weight="bold" fill="#141414" textLength="19.6" lengthAdjust="spacingAndGlyphs">316</tspan><tspan x="158.0" textLength="18.5" lengthAdjust="spacingAndGlyphs">001</tspan><tspan x="179.9" textLength="19.4" lengthAdjust="spacingAndGlyphs">534</tspan></text><rect x="215.00" y="317.50" width="31.7" height="15.95" fill="#d4eadb"/><rect x="248.83" y="317.50" width="31.7" height="15.95" fill="#d4eadb"/><rect x="282.66" y="317.50" width="31.7" height="15.95" fill="#d4eadb"/><rect x="316.49" y="317.50" width="31.7" height="15.95" fill="#d4eadb"/><rect x="350.32" y="317.50" width="31.7" height="15.95" fill="#d4eadb"/><rect x="384.15" y="317.50" width="31.7" height="15.95" fill="#d4eadb"/><text x="400.00" y="329.70" font-size="12.0" fill="#3b3b3b" text-anchor="middle">014</text><rect x="417.98" y="317.50" width="31.7" height="15.95" fill="#d4eadb"/><text x="433.83" y="329.70" font-size="12.0" fill="#3b3b3b" text-anchor="middle">016</text><rect x="451.81" y="317.50" width="31.7" height="15.95" fill="#d4eadb"/><text x="467.66" y="329.70" font-size="12.0" fill="#3b3b3b" text-anchor="middle">018</text><rect x="485.64" y="317.50" width="31.7" height="15.95" fill="#d4eadb"/><rect x="519.47" y="317.50" width="31.7" height="15.95" fill="#d4eadb"/><text x="535.32" y="329.70" font-size="12.0" fill="#3b3b3b" text-anchor="middle">023</text><rect x="553.30" y="317.50" width="31.7" height="15.95" fill="#d4eadb"/><rect x="587.13" y="317.50" width="31.7" height="15.95" fill="#d4eadb"/><rect x="620.96" y="317.50" width="31.7" height="15.95" fill="#d4eadb"/><rect x="654.79" y="317.50" width="31.7" height="15.95" fill="#d4eadb"/><rect x="688.62" y="317.50" width="31.7" height="15.95" fill="#d4eadb"/><rect x="722.45" y="317.50" width="31.7" height="15.95" fill="#d4eadb"/><rect x="756.28" y="317.50" width="31.7" height="15.95" fill="#d4eadb"/>
<rect x="13" y="335.58" width="45.4" height="15.95" fill="#e8171f"/><text x="16.0" y="347.78" font-size="12.0" fill="#3a1a10" textLength="25.9" lengthAdjust="spacingAndGlyphs">801F</text><rect x="58.6" y="335.58" width="153.6" height="15.95" fill="#fbd3c1"/><text x="61.4" y="347.78" font-size="12.0" fill="#3b3b3b" textLength="13.8" lengthAdjust="spacingAndGlyphs">HP</text><text y="347.78" font-size="12.0" fill="#3b3b3b"><tspan x="110.5" textLength="19.4" lengthAdjust="spacingAndGlyphs">806</tspan><tspan x="134.4" font-weight="bold" fill="#141414" textLength="19.6" lengthAdjust="spacingAndGlyphs">104</tspan><tspan x="158.0" textLength="18.5" lengthAdjust="spacingAndGlyphs">001</tspan><tspan x="179.9" textLength="19.4" lengthAdjust="spacingAndGlyphs">514</tspan></text><rect x="215.00" y="335.58" width="31.7" height="15.95" fill="#fbd3c1"/><rect x="248.83" y="335.58" width="31.7" height="15.95" fill="#fbd3c1"/><rect x="282.66" y="335.58" width="31.7" height="15.95" fill="#fbd3c1"/><rect x="316.49" y="335.58" width="31.7" height="15.95" fill="#fbd3c1"/><rect x="350.32" y="335.58" width="31.7" height="15.95" fill="#fbd3c1"/><rect x="384.15" y="335.58" width="31.7" height="15.95" fill="#fbd3c1"/><rect x="417.98" y="335.58" width="31.7" height="15.95" fill="#fbd3c1"/><text x="433.83" y="347.78" font-size="12.0" fill="#3b3b3b" text-anchor="middle">016</text><rect x="451.81" y="335.58" width="31.7" height="15.95" fill="#fbd3c1"/><rect x="485.64" y="335.58" width="31.7" height="15.95" fill="#fbd3c1"/><rect x="519.47" y="335.58" width="31.7" height="15.95" fill="#fbd3c1"/><rect x="553.30" y="335.58" width="31.7" height="15.95" fill="#fbd3c1"/><rect x="587.13" y="335.58" width="31.7" height="15.95" fill="#fbd3c1"/><rect x="620.96" y="335.58" width="31.7" height="15.95" fill="#fbd3c1"/><rect x="654.79" y="335.58" width="31.7" height="15.95" fill="#fbd3c1"/><rect x="688.62" y="335.58" width="31.7" height="15.95" fill="#fbd3c1"/><rect x="722.45" y="335.58" width="31.7" height="15.95" fill="#fbd3c1"/><rect x="756.28" y="335.58" width="31.7" height="15.95" fill="#fbd3c1"/>
<rect x="58.6" y="353.66" width="153.6" height="15.95" fill="#fbd3c1"/><text x="61.4" y="365.86" font-size="12.0" fill="#3b3b3b" textLength="13.1" lengthAdjust="spacingAndGlyphs">RA</text><text y="365.86" font-size="12.0" fill="#3b3b3b"><tspan x="110.5" textLength="19.4" lengthAdjust="spacingAndGlyphs">806</tspan><tspan x="134.4" font-weight="bold" fill="#141414" textLength="19.6" lengthAdjust="spacingAndGlyphs">204</tspan><tspan x="158.0" textLength="18.5" lengthAdjust="spacingAndGlyphs">001</tspan><tspan x="179.9" textLength="19.4" lengthAdjust="spacingAndGlyphs">514</tspan></text><rect x="215.00" y="353.66" width="31.7" height="15.95" fill="#fbd3c1"/><rect x="248.83" y="353.66" width="31.7" height="15.95" fill="#fbd3c1"/><rect x="282.66" y="353.66" width="31.7" height="15.95" fill="#fbd3c1"/><rect x="316.49" y="353.66" width="31.7" height="15.95" fill="#fbd3c1"/><rect x="350.32" y="353.66" width="31.7" height="15.95" fill="#fbd3c1"/><rect x="384.15" y="353.66" width="31.7" height="15.95" fill="#fbd3c1"/><rect x="417.98" y="353.66" width="31.7" height="15.95" fill="#fbd3c1"/><text x="433.83" y="365.86" font-size="12.0" fill="#3b3b3b" text-anchor="middle">016</text><rect x="451.81" y="353.66" width="31.7" height="15.95" fill="#fbd3c1"/><text x="467.66" y="365.86" font-size="12.0" fill="#3b3b3b" text-anchor="middle">018</text><rect x="485.64" y="353.66" width="31.7" height="15.95" fill="#fbd3c1"/><rect x="519.47" y="353.66" width="31.7" height="15.95" fill="#fbd3c1"/><text x="535.32" y="365.86" font-size="12.0" fill="#3b3b3b" text-anchor="middle">023</text><rect x="553.30" y="353.66" width="31.7" height="15.95" fill="#fbd3c1"/><rect x="587.13" y="353.66" width="31.7" height="15.95" fill="#fbd3c1"/><rect x="620.96" y="353.66" width="31.7" height="15.95" fill="#fbd3c1"/><rect x="654.79" y="353.66" width="31.7" height="15.95" fill="#fbd3c1"/><rect x="688.62" y="353.66" width="31.7" height="15.95" fill="#fbd3c1"/><text x="704.47" y="365.86" font-size="12.0" fill="#3b3b3b" text-anchor="middle">033</text><rect x="722.45" y="353.66" width="31.7" height="15.95" fill="#fbd3c1"/><rect x="756.28" y="353.66" width="31.7" height="15.95" fill="#fbd3c1"/>
<rect x="58.6" y="371.74" width="153.6" height="15.95" fill="#fbd3c1"/><text x="61.4" y="383.94" font-size="12.0" fill="#3b3b3b" textLength="15.0" lengthAdjust="spacingAndGlyphs">FG</text><text y="383.94" font-size="12.0" fill="#3b3b3b"><tspan x="110.5" textLength="19.4" lengthAdjust="spacingAndGlyphs">806</tspan><tspan x="134.4" font-weight="bold" fill="#141414" textLength="19.6" lengthAdjust="spacingAndGlyphs">314</tspan><tspan x="158.0" textLength="18.5" lengthAdjust="spacingAndGlyphs">001</tspan><tspan x="179.9" textLength="19.4" lengthAdjust="spacingAndGlyphs">514</tspan></text><rect x="215.00" y="371.74" width="31.7" height="15.95" fill="#fbd3c1"/><text x="230.85" y="383.94" font-size="12.0" fill="#3b3b3b" text-anchor="middle">007</text><rect x="248.83" y="371.74" width="31.7" height="15.95" fill="#fbd3c1"/><text x="264.68" y="383.94" font-size="12.0" fill="#3b3b3b" text-anchor="middle">008</text><rect x="282.66" y="371.74" width="31.7" height="15.95" fill="#fbd3c1"/><rect x="316.49" y="371.74" width="31.7" height="15.95" fill="#fbd3c1"/><text x="332.34" y="383.94" font-size="12.0" fill="#3b3b3b" text-anchor="middle">010</text><rect x="350.32" y="371.74" width="31.7" height="15.95" fill="#fbd3c1"/><text x="366.17" y="383.94" font-size="12.0" fill="#3b3b3b" text-anchor="middle">012</text><rect x="384.15" y="371.74" width="31.7" height="15.95" fill="#fbd3c1"/><text x="400.00" y="383.94" font-size="12.0" fill="#3b3b3b" text-anchor="middle">014</text><rect x="417.98" y="371.74" width="31.7" height="15.95" fill="#fbd3c1"/><text x="433.83" y="383.94" font-size="12.0" fill="#3b3b3b" text-anchor="middle">016</text><rect x="451.81" y="371.74" width="31.7" height="15.95" fill="#fbd3c1"/><text x="467.66" y="383.94" font-size="12.0" fill="#3b3b3b" text-anchor="middle">018</text><rect x="485.64" y="371.74" width="31.7" height="15.95" fill="#fbd3c1"/><text x="501.49" y="383.94" font-size="12.0" fill="#3b3b3b" text-anchor="middle">021</text><rect x="519.47" y="371.74" width="31.7" height="15.95" fill="#fbd3c1"/><text x="535.32" y="383.94" font-size="12.0" fill="#3b3b3b" text-anchor="middle">023</text><rect x="553.30" y="371.74" width="31.7" height="15.95" fill="#fbd3c1"/><text x="569.15" y="383.94" font-size="12.0" fill="#3b3b3b" text-anchor="middle">025</text><rect x="587.13" y="371.74" width="31.7" height="15.95" fill="#fbd3c1"/><text x="602.98" y="383.94" font-size="12.0" fill="#3b3b3b" text-anchor="middle">027</text><rect x="620.96" y="371.74" width="31.7" height="15.95" fill="#fbd3c1"/><text x="636.81" y="383.94" font-size="12.0" fill="#3b3b3b" text-anchor="middle">029</text><rect x="654.79" y="371.74" width="31.7" height="15.95" fill="#fbd3c1"/><rect x="688.62" y="371.74" width="31.7" height="15.95" fill="#fbd3c1"/><text x="702.27" y="383.94" font-size="12.0" fill="#3b3b3b" text-anchor="middle">033</text><text x="712.47" y="383.64" font-size="10" fill="#222">*</text><rect x="722.45" y="371.74" width="31.7" height="15.95" fill="#fbd3c1"/><text x="738.30" y="383.94" font-size="12.0" fill="#3b3b3b" text-anchor="middle">035</text><rect x="756.28" y="371.74" width="31.7" height="15.95" fill="#fbd3c1"/>
<rect x="13" y="389.82" width="45.4" height="15.95" fill="#fdd000"/><text x="16.0" y="402.02" font-size="12.0" fill="#3a2a00" textLength="28.2" lengthAdjust="spacingAndGlyphs">801C</text><rect x="58.6" y="389.82" width="153.6" height="15.95" fill="#fdefd0"/><text x="61.4" y="402.02" font-size="12.0" fill="#3b3b3b" textLength="13.8" lengthAdjust="spacingAndGlyphs">HP</text><text y="402.02" font-size="12.0" fill="#3b3b3b"><tspan x="110.5" textLength="19.4" lengthAdjust="spacingAndGlyphs">806</tspan><tspan x="134.4" font-weight="bold" fill="#141414" textLength="19.6" lengthAdjust="spacingAndGlyphs">104</tspan><tspan x="158.0" textLength="18.5" lengthAdjust="spacingAndGlyphs">001</tspan><tspan x="179.9" textLength="19.4" lengthAdjust="spacingAndGlyphs">504</tspan></text><rect x="215.00" y="389.82" width="31.7" height="15.95" fill="#fdefd0"/><rect x="248.83" y="389.82" width="31.7" height="15.95" fill="#fdefd0"/><rect x="282.66" y="389.82" width="31.7" height="15.95" fill="#fdefd0"/><rect x="316.49" y="389.82" width="31.7" height="15.95" fill="#fdefd0"/><rect x="350.32" y="389.82" width="31.7" height="15.95" fill="#fdefd0"/><rect x="384.15" y="389.82" width="31.7" height="15.95" fill="#fdefd0"/><rect x="417.98" y="389.82" width="31.7" height="15.95" fill="#fdefd0"/><rect x="451.81" y="389.82" width="31.7" height="15.95" fill="#fdefd0"/><rect x="485.64" y="389.82" width="31.7" height="15.95" fill="#fdefd0"/><rect x="519.47" y="389.82" width="31.7" height="15.95" fill="#fdefd0"/><text x="535.32" y="402.02" font-size="12.0" fill="#3b3b3b" text-anchor="middle">023</text><rect x="553.30" y="389.82" width="31.7" height="15.95" fill="#fdefd0"/><rect x="587.13" y="389.82" width="31.7" height="15.95" fill="#fdefd0"/><rect x="620.96" y="389.82" width="31.7" height="15.95" fill="#fdefd0"/><rect x="654.79" y="389.82" width="31.7" height="15.95" fill="#fdefd0"/><rect x="688.62" y="389.82" width="31.7" height="15.95" fill="#fdefd0"/><rect x="722.45" y="389.82" width="31.7" height="15.95" fill="#fdefd0"/><rect x="756.28" y="389.82" width="31.7" height="15.95" fill="#fdefd0"/>
<rect x="58.6" y="407.90" width="153.6" height="15.95" fill="#fdefd0"/><text x="61.4" y="420.10" font-size="12.0" fill="#3b3b3b" textLength="13.1" lengthAdjust="spacingAndGlyphs">RA</text><text y="420.10" font-size="12.0" fill="#3b3b3b"><tspan x="110.5" textLength="19.4" lengthAdjust="spacingAndGlyphs">806</tspan><tspan x="134.4" font-weight="bold" fill="#141414" textLength="19.6" lengthAdjust="spacingAndGlyphs">204</tspan><tspan x="158.0" textLength="18.5" lengthAdjust="spacingAndGlyphs">001</tspan><tspan x="179.9" textLength="19.4" lengthAdjust="spacingAndGlyphs">504</tspan></text><rect x="215.00" y="407.90" width="31.7" height="15.95" fill="#fdefd0"/><rect x="248.83" y="407.90" width="31.7" height="15.95" fill="#fdefd0"/><rect x="282.66" y="407.90" width="31.7" height="15.95" fill="#fdefd0"/><rect x="316.49" y="407.90" width="31.7" height="15.95" fill="#fdefd0"/><rect x="350.32" y="407.90" width="31.7" height="15.95" fill="#fdefd0"/><text x="366.17" y="420.10" font-size="12.0" fill="#3b3b3b" text-anchor="middle">012</text><rect x="384.15" y="407.90" width="31.7" height="15.95" fill="#fdefd0"/><rect x="417.98" y="407.90" width="31.7" height="15.95" fill="#fdefd0"/><rect x="451.81" y="407.90" width="31.7" height="15.95" fill="#fdefd0"/><rect x="485.64" y="407.90" width="31.7" height="15.95" fill="#fdefd0"/><rect x="519.47" y="407.90" width="31.7" height="15.95" fill="#fdefd0"/><text x="535.32" y="420.10" font-size="12.0" fill="#3b3b3b" text-anchor="middle">023</text><rect x="553.30" y="407.90" width="31.7" height="15.95" fill="#fdefd0"/><rect x="587.13" y="407.90" width="31.7" height="15.95" fill="#fdefd0"/><rect x="620.96" y="407.90" width="31.7" height="15.95" fill="#fdefd0"/><rect x="654.79" y="407.90" width="31.7" height="15.95" fill="#fdefd0"/><rect x="688.62" y="407.90" width="31.7" height="15.95" fill="#fdefd0"/><rect x="722.45" y="407.90" width="31.7" height="15.95" fill="#fdefd0"/><rect x="756.28" y="407.90" width="31.7" height="15.95" fill="#fdefd0"/>
<rect x="58.6" y="425.98" width="153.6" height="15.95" fill="#fdefd0"/><text x="61.4" y="438.18" font-size="12.0" fill="#3b3b3b" textLength="15.0" lengthAdjust="spacingAndGlyphs">FG</text><text y="438.18" font-size="12.0" fill="#3b3b3b"><tspan x="110.5" textLength="19.4" lengthAdjust="spacingAndGlyphs">806</tspan><tspan x="134.4" font-weight="bold" fill="#141414" textLength="19.6" lengthAdjust="spacingAndGlyphs">314</tspan><tspan x="158.0" textLength="18.5" lengthAdjust="spacingAndGlyphs">001</tspan><tspan x="179.9" textLength="19.4" lengthAdjust="spacingAndGlyphs">504</tspan></text><rect x="215.00" y="425.98" width="31.7" height="15.95" fill="#fdefd0"/><text x="230.85" y="438.18" font-size="12.0" fill="#3b3b3b" text-anchor="middle">007</text><rect x="248.83" y="425.98" width="31.7" height="15.95" fill="#fdefd0"/><text x="264.68" y="438.18" font-size="12.0" fill="#3b3b3b" text-anchor="middle">008</text><rect x="282.66" y="425.98" width="31.7" height="15.95" fill="#fdefd0"/><text x="298.51" y="438.18" font-size="12.0" fill="#3b3b3b" text-anchor="middle">009</text><rect x="316.49" y="425.98" width="31.7" height="15.95" fill="#fdefd0"/><text x="332.34" y="438.18" font-size="12.0" fill="#3b3b3b" text-anchor="middle">010</text><rect x="350.32" y="425.98" width="31.7" height="15.95" fill="#fdefd0"/><text x="366.17" y="438.18" font-size="12.0" fill="#3b3b3b" text-anchor="middle">012</text><rect x="384.15" y="425.98" width="31.7" height="15.95" fill="#fdefd0"/><text x="400.00" y="438.18" font-size="12.0" fill="#3b3b3b" text-anchor="middle">014</text><rect x="417.98" y="425.98" width="31.7" height="15.95" fill="#fdefd0"/><text x="433.83" y="438.18" font-size="12.0" fill="#3b3b3b" text-anchor="middle">016</text><rect x="451.81" y="425.98" width="31.7" height="15.95" fill="#fdefd0"/><text x="467.66" y="438.18" font-size="12.0" fill="#3b3b3b" text-anchor="middle">018</text><rect x="485.64" y="425.98" width="31.7" height="15.95" fill="#fdefd0"/><text x="501.49" y="438.18" font-size="12.0" fill="#3b3b3b" text-anchor="middle">021</text><rect x="519.47" y="425.98" width="31.7" height="15.95" fill="#fdefd0"/><text x="535.32" y="438.18" font-size="12.0" fill="#3b3b3b" text-anchor="middle">023</text><rect x="553.30" y="425.98" width="31.7" height="15.95" fill="#fdefd0"/><text x="569.15" y="438.18" font-size="12.0" fill="#3b3b3b" text-anchor="middle">025</text><rect x="587.13" y="425.98" width="31.7" height="15.95" fill="#fdefd0"/><text x="602.98" y="438.18" font-size="12.0" fill="#3b3b3b" text-anchor="middle">027</text><rect x="620.96" y="425.98" width="31.7" height="15.95" fill="#fdefd0"/><text x="636.81" y="438.18" font-size="12.0" fill="#3b3b3b" text-anchor="middle">029</text><rect x="654.79" y="425.98" width="31.7" height="15.95" fill="#fdefd0"/><rect x="688.62" y="425.98" width="31.7" height="15.95" fill="#fdefd0"/><text x="702.27" y="438.18" font-size="12.0" fill="#3b3b3b" text-anchor="middle">033</text><text x="712.47" y="437.88" font-size="10" fill="#222">*</text><rect x="722.45" y="425.98" width="31.7" height="15.95" fill="#fdefd0"/><rect x="756.28" y="425.98" width="31.7" height="15.95" fill="#fdefd0"/>
<rect x="13" y="443.86" width="44.5" height="16.35" fill="#fff"/><line x1="13" x2="57.5" y1="444.86" y2="444.86" stroke="#dcdcdc" stroke-width="1"/><line x1="13" x2="57.5" y1="459.91" y2="459.91" stroke="#dcdcdc" stroke-width="1"/><text x="16.0" y="456.26" font-size="12.0" fill="#333" textLength="28.6" lengthAdjust="spacingAndGlyphs">801U</text><rect x="58.6" y="444.06" width="153.6" height="15.95" fill="#e3e4e5"/><text x="61.4" y="456.26" font-size="12.0" fill="#3b3b3b" textLength="15.0" lengthAdjust="spacingAndGlyphs">FG</text><text y="456.26" font-size="12.0" fill="#3b3b3b"><tspan x="110.5" textLength="19.4" lengthAdjust="spacingAndGlyphs">806</tspan><tspan x="134.4" font-weight="bold" fill="#141414" textLength="19.6" lengthAdjust="spacingAndGlyphs">314</tspan><tspan x="158.0" textLength="18.5" lengthAdjust="spacingAndGlyphs">001</tspan><tspan x="179.9" textLength="19.4" lengthAdjust="spacingAndGlyphs">494</tspan></text><rect x="215.00" y="444.06" width="31.7" height="15.95" fill="#e3e4e5"/><rect x="248.83" y="444.06" width="31.7" height="15.95" fill="#e3e4e5"/><rect x="282.66" y="444.06" width="31.7" height="15.95" fill="#e3e4e5"/><rect x="316.49" y="444.06" width="31.7" height="15.95" fill="#e3e4e5"/><text x="332.34" y="456.26" font-size="12.0" fill="#3b3b3b" text-anchor="middle">010</text><rect x="350.32" y="444.06" width="31.7" height="15.95" fill="#e3e4e5"/><rect x="384.15" y="444.06" width="31.7" height="15.95" fill="#e3e4e5"/><rect x="417.98" y="444.06" width="31.7" height="15.95" fill="#e3e4e5"/><text x="433.83" y="456.26" font-size="12.0" fill="#3b3b3b" text-anchor="middle">016</text><rect x="451.81" y="444.06" width="31.7" height="15.95" fill="#e3e4e5"/><rect x="485.64" y="444.06" width="31.7" height="15.95" fill="#e3e4e5"/><rect x="519.47" y="444.06" width="31.7" height="15.95" fill="#e3e4e5"/><text x="535.32" y="456.26" font-size="12.0" fill="#3b3b3b" text-anchor="middle">023</text><rect x="553.30" y="444.06" width="31.7" height="15.95" fill="#e3e4e5"/><rect x="587.13" y="444.06" width="31.7" height="15.95" fill="#e3e4e5"/><rect x="620.96" y="444.06" width="31.7" height="15.95" fill="#e3e4e5"/><rect x="654.79" y="444.06" width="31.7" height="15.95" fill="#e3e4e5"/><rect x="688.62" y="444.06" width="31.7" height="15.95" fill="#e3e4e5"/><rect x="722.45" y="444.06" width="31.7" height="15.95" fill="#e3e4e5"/><rect x="756.28" y="444.06" width="31.7" height="15.95" fill="#e3e4e5"/>
<text x="751.4" y="477.6" font-size="10.5" fill="#333">*</text><g><path d="M757.57,476.01 L766.40,476.01 L766.40,481.90 L757.57,481.90 Z" fill="#fff" stroke="#a0a0a0" stroke-width="0.85"/><path d="M766.40,476.01 L770.11,472.21 L770.11,478.10 L766.40,481.90 Z" fill="#fff" stroke="#a0a0a0" stroke-width="0.85"/><path d="M757.57,476.01 L761.94,472.40 L770.11,472.21 L766.40,476.01 Z" fill="#fff" stroke="#a0a0a0" stroke-width="0.7"/><path d="M757.19,468.79 L766.98,468.79 L770.30,472.02 L761.85,472.40 L757.76,475.63 L757.48,474.49 L760.61,471.36 Z" fill="#111"/></g><text x="772" y="479.5" font-size="12" fill="#333">=2</text>
<g>
<g transform="translate(13.00,467.3)"><rect x="0.8" y="0.8" width="28.2" height="29.2" fill="#fff" stroke="#8a8a8a" stroke-width="1.45"/><g fill="none" stroke="#8a8a8a" stroke-width="1.2"><path d="M1.5,8.5 Q6.5,3.8 12.3,7.2 L12.5,22.8 Q6.5,26.8 1.5,23"/><path d="M12.6,7.2 Q17,3.2 21.6,7.4 L22.6,23 Q17.5,25.6 12.6,23"/><path d="M29,6.6 Q24.5,5.8 23,9 Q23.2,16 24.6,23 Q27,23.8 29,21.5"/></g><path d="M16.9,13.9 L20.1,19.7 L16.9,18.3 L13.7,19.7 Z" fill="#4a4a4a"/></g>
<g transform="translate(44.43,467.3)"><rect x="0.8" y="0.8" width="28.2" height="29.2" fill="#fff" stroke="#8a8a8a" stroke-width="1.45"/><g fill="none" stroke="#8a8a8a" stroke-width="1.2"><path d="M1.5,9.5 Q6.5,4.8 11.8,8 L12,23.8 Q6.5,27.2 1.5,24"/><path d="M12.2,8 Q16.5,4.2 21.2,8.2 L22.2,24 Q17,26.6 12.2,24"/><path d="M29,7.6 Q24.2,6.8 22.6,10 Q22.8,17 24.2,24 Q26.8,24.8 29,22.5"/></g><g fill="none" stroke="#9a9a9a" stroke-width="1"><rect x="2.8" y="13" width="4.8" height="4.6"/><rect x="13.8" y="13" width="4.8" height="4.6"/><rect x="24.5" y="13" width="4" height="4.6"/><path d="M1,15.3 L29,15.3"/></g></g>
<g transform="translate(75.86,467.3)"><rect x="0.8" y="0.8" width="28.2" height="29.2" fill="#fff" stroke="#8a8a8a" stroke-width="1.45"/><path d="M7.4,1.1 L18.8,1.1 L18.9,6.8 Q19,11 18.5,14.3 Q17.8,18.2 16.8,19.9 Q15.6,21.2 14.4,20.6 Q15.2,18.5 15.6,15.6 Q16.1,12.5 15.9,10.9 Q15.3,8.2 13.2,8.2 Q11.2,8.2 10.9,10.9 Q10.7,13 11.2,15.6 Q11.7,18.5 12.0,20.6 Q10.6,21.2 9.6,19.9 Q8.0,17.8 7.6,14.3 Q7.0,10.5 7.0,6.8 Z" fill="#6f6f6f"/><path d="M20.4,7 Q24,5.2 28.6,6 L28.6,19.6 Q24.5,20.6 20.6,19.8 Q19.6,16 21.6,13 Q20,10 20.4,7 Z" fill="#6f6f6f"/><g fill="#a0a0a0"><circle cx="3" cy="21" r="0.7"/><circle cx="6" cy="23" r="0.7"/><circle cx="9.5" cy="22.5" r="0.7"/><circle cx="13" cy="24" r="0.7"/><circle cx="17" cy="22.6" r="0.7"/><circle cx="20.5" cy="23.5" r="0.7"/><circle cx="24" cy="22.2" r="0.7"/><circle cx="27" cy="24" r="0.7"/><circle cx="4.5" cy="26" r="0.7"/><circle cx="8" cy="27.5" r="0.7"/><circle cx="11.5" cy="26.5" r="0.7"/><circle cx="15" cy="28" r="0.7"/><circle cx="18.5" cy="26.8" r="0.7"/><circle cx="22" cy="28" r="0.7"/><circle cx="25.5" cy="26.5" r="0.7"/><circle cx="2.5" cy="28.5" r="0.7"/><circle cx="27.5" cy="28.5" r="0.7"/><circle cx="6.5" cy="29" r="0.7"/><circle cx="13" cy="29.2" r="0.7"/><circle cx="20" cy="29.3" r="0.7"/></g></g>
<g transform="translate(107.29,467.3)"><rect x="0.8" y="0.8" width="28.2" height="29.2" fill="#fff" stroke="#8a8a8a" stroke-width="1.45"/><path d="M4.2,30.2 Q3.4,24 4.0,20.4 Q4.8,16.2 6.4,13.8 Q7.8,11.6 9.6,11.4 Q11.6,11.4 12.2,13 Q12.6,15.6 13.2,17.6 Q16.2,19.4 19.2,17.6 Q19.4,14.2 20.2,12.8 Q21.6,11.8 22.8,13.8 Q24.4,17.4 24.2,20.6 Q24,25 23,27.6 L21.8,30.2 Z" fill="#6f6f6f"/></g>
<g transform="translate(138.72,467.3)"><rect x="0.8" y="0.8" width="28.2" height="29.2" fill="#fff" stroke="#8a8a8a" stroke-width="1.45"/><path d="M2.6,18.3 Q2.6,13.4 4.6,11.4 Q7,8.8 9.8,8.8 Q13,8.9 15.9,9.5 Q18,8.2 20,8.2 Q24,8.6 25.6,11.6 Q27.2,14.5 26.6,16.6 Q25.8,19.6 23.8,21 Q20.5,23.4 17.3,23.6 Q14,24.2 11.9,23.6 Q7.5,23.2 5.1,21.6 Q2.6,20.5 2.6,18.3 Z" fill="none" stroke="#8a8a8a" stroke-width="1.1"/><path d="M8.6,13.6 L11,14.6 L12.6,13 L14.6,14.4 L16.5,13 L18,14.5 L20.6,14.2 M9,17 L11.4,16.2 L13,17.6 L15.2,16 L17,17.5 L18.8,16.4 L20.5,17" fill="none" stroke="#666" stroke-width="0.9"/></g>
<g transform="translate(170.15,467.3)"><rect x="0.8" y="0.8" width="28.2" height="29.2" fill="#fff" stroke="#8a8a8a" stroke-width="1.45"/><path d="M10.6,10.8 L12.6,11.6 L14.4,10.4 L16.2,11.2 L18,10.2 Q18.6,13 19,14.9 Q20.6,17.6 21.4,20.3 L21,30.2 L8.6,30.2 L8.2,20.3 Q9.2,17.5 10,14.9 Q10.2,12.6 10.6,10.8 Z" fill="#6f6f6f"/><path d="M6.6,19.4 Q4.4,15 5.2,10.6 Q6,5.8 8.2,4.4 Q10.3,3.8 11.8,5.5 Q13,7.4 14.4,7.2 Q16.2,5.6 18.2,5.6 Q20.8,4.6 22.4,5 Q23.6,6.5 23.3,8.5 Q23.2,13 22.4,15.4 Q21.8,18.2 21,19.6" fill="none" stroke="#8a8a8a" stroke-width="1.1"/><path d="M0.6,30.2 Q1.4,21.2 2.8,21 Q4.4,21.4 5.2,30.2 M24.6,30.2 Q25.4,21.2 26.8,21 Q28.2,21.4 29,30.2" fill="none" stroke="#8a8a8a" stroke-width="1.1"/></g>
<g transform="translate(201.58,467.3)"><rect x="0.8" y="0.8" width="28.2" height="29.2" fill="#fff" stroke="#8a8a8a" stroke-width="1.45"/><path d="M0.8,12.8 Q3.8,11.6 7,12 Q10.6,12.6 14,12.2 Q17.4,12 20.4,13 Q24,14 26.9,15.4 L29,16.2 L29,30.2 L0.8,30.2 Z" fill="#6f6f6f"/><path d="M15.2,12.6 L14.6,22.6 Q14.6,25.2 16.4,25.2 Q18.2,25.2 18.3,22.8 L19,12.8" fill="#666" stroke="#f4f4f4" stroke-width="1.1"/></g>
<g transform="translate(233.01,467.3)"><rect x="0.8" y="0.8" width="28.2" height="29.2" fill="#fff" stroke="#8a8a8a" stroke-width="1.45"/><path d="M12.0,30.2 L17.8,18.8 L16.0,17.2" fill="none" stroke="#5e5e5e" stroke-width="2"/><g fill="none" stroke="#787878" stroke-width="1.3"><path d="M20.75,9.12 A3.0,3.0 0 1 1 18.32,5.65"/><path d="M4.05,17.68 A3.0,3.0 0 1 1 6.48,21.15"/><circle cx="13.4" cy="12.2" r="1.6" fill="#fff"/><circle cx="10.6" cy="14.8" r="1.6" fill="#fff"/></g></g>
<g transform="translate(264.44,467.3)"><rect x="0.8" y="0.8" width="28.2" height="29.2" fill="#fff" stroke="#8a8a8a" stroke-width="1.45"/><path d="M0.8,10.6 Q4,11.2 7,10.2 Q9,9.4 11,10.4 Q20,11 29,10.2 L29,22 L0.8,22 Z" fill="#6f6f6f"/><g fill="#fff"><path d="M1.0,23.2 Q1.0,25.2 4.10,25.2 Q7.2,25.2 7.2,23.2 L7.2,18.0 C7.2,14.0 5.90,13.0 4.10,13.0 C2.30,13.0 1.0,14.0 1.0,18.0 Z"/><path d="M7.8,23.2 Q7.8,25.2 11.60,25.2 Q15.4,25.2 15.4,23.2 L15.4,18.0 C15.4,14.0 13.40,13.0 11.60,13.0 C9.80,13.0 7.8,14.0 7.8,18.0 Z"/><path d="M16.0,23.2 Q16.0,25.2 19.60,25.2 Q23.2,25.2 23.2,23.2 L23.2,18.0 C23.2,14.0 21.40,13.0 19.60,13.0 C17.80,13.0 16.0,14.0 16.0,18.0 Z"/><path d="M23.8,23.2 Q23.8,25.2 26.60,25.2 Q29.4,25.2 29.4,23.2 L29.4,18.0 C29.4,14.0 28.40,13.0 26.60,13.0 C24.80,13.0 23.8,14.0 23.8,18.0 Z"/></g><path d="M0.8,7.4 Q4,8 6.8,6.8 Q8.4,6 10,7.2 Q18,7.8 29,7.2" fill="none" stroke="#9a9a9a" stroke-width="1.1"/><path d="M0.8,26.4 L29,26.4" stroke="#9a9a9a" stroke-width="1"/></g>
<g transform="translate(295.87,467.3)"><rect x="0.8" y="0.8" width="28.2" height="29.2" fill="#fff" stroke="#8a8a8a" stroke-width="1.45"/><path d="M0.8,11.3 L4.4,11.6 Q5.2,10.6 7.6,10.4 Q10.4,10 11.6,10.8 Q12.2,12.2 12.4,13.2 L17.4,13.2 Q18.4,11.6 19.8,11 Q22.2,10.6 23.6,11.6 Q25.4,14.4 26.2,18.4 Q26.4,22.4 23.8,25.2 Q21,26.2 18.6,24.6 Q16.6,22 16.2,18.4 L11.6,18 Q10.6,21 9.4,21.8 Q7,23.4 5.6,22.8 Q4.6,20.2 4.4,17 L0.8,16.6" fill="none" stroke="#8a8a8a" stroke-width="1.2"/></g>
<g transform="translate(327.30,467.3)"><rect x="0.8" y="0.8" width="28.2" height="29.2" fill="#fff" stroke="#8a8a8a" stroke-width="1.45"/><g fill="none" stroke="#7c7c7c" stroke-width="1.4"><path d="M3,8.6 Q8.5,8.6 14.4,10.2 Q14.6,15 13.4,19.6 Q11.4,25.2 8.6,27 Q5.8,26.8 4.4,24.4 Q2.6,19 2.4,13.8 Q2.4,10 3,8.6 Z"/><path d="M16.2,9.6 Q21.5,9.8 26,11 Q28,13 27.4,15.6 Q26.6,22.4 24.6,27 Q20.5,29.2 17.8,28.2 Q15.6,24.6 15.2,20 Q15,13.2 16.2,9.6 Z"/></g><g fill="none" stroke="#b0b0b0" stroke-width="0.8"><path d="M5,11 Q11,11.5 12.4,13.5 Q12,20 9,24.5"/><path d="M18,12 Q23,12.5 25.2,14 Q24.8,21 22.8,25.6"/></g></g>
</g>
<g transform="translate(364.50,473.4)"><path d="M0.3,0.3 L24.2,0.3 L21.2,3.4 L21.2,19.4 L3.3,19.4 L3.3,3.4 Z" fill="#fff" stroke="#8a8a8a" stroke-width="1.2"/><path d="M0.3,0.3 L24.2,0.3" stroke="#8a8a8a" stroke-width="1.4"/><text x="12.3" y="8.4" font-size="4.6" fill="#666" text-anchor="middle" textLength="10" lengthAdjust="spacingAndGlyphs">135°C</text><g fill="none" stroke="#707070" stroke-width="0.85"><path d="M9.5,11.8 Q8.6,13.4 9.5,15"/><path d="M10.8,11.6 Q9.9,13.4 10.8,15.2"/><path d="M12.6,11.6 Q13.5,13.4 12.6,15.2"/><path d="M14,11.6 Q14.9,13.4 14,15.2"/><path d="M15.3,11.8 Q16.2,13.4 15.3,15"/></g></g><g transform="translate(396.70,473.4)"><path d="M0.3,0.3 L24.2,0.3 L21.2,3.4 L21.2,19.4 L3.3,19.4 L3.3,3.4 Z" fill="#fff" stroke="#8a8a8a" stroke-width="1.2"/><path d="M0.3,0.3 L24.2,0.3" stroke="#8a8a8a" stroke-width="1.4"/><g fill="none" stroke="#7a7a7a" stroke-width="0.95"><path d="M7.4,8.8 Q7.9,10.4 7.4,12"/><path d="M9,8 Q9.8,10.4 9,12.8"/><path d="M10.8,7 Q11.9,10.4 10.8,13.8"/><path d="M12.8,6.2 Q14.2,10.4 12.8,14.6"/><path d="M14.8,5.4 Q16.6,10.4 14.8,15.4"/><path d="M16.8,4.8 Q18.9,10.4 16.8,16"/></g></g>
</svg>
</body></html>
